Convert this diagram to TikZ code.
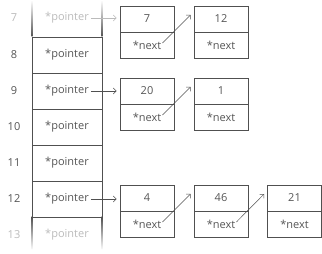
\documentclass[tikz,border=0pt]{standalone}
\usepackage{fontspec}
\setmainfont{Open Sans}
\usetikzlibrary{arrows.meta}
\definecolor{ink}{HTML}{505050}
\definecolor{txt}{HTML}{555555}
\definecolor{faint}{HTML}{BBBBBB}
\tikzset{
  x=1pt, y=-1pt,
  every node/.style={font=\fontsize{11}{13}\selectfont, text=txt, inner sep=0pt},
  cell/.style={draw=ink, line width=0.8pt, minimum width=70pt, minimum height=36pt},
  ghost/.style={minimum width=70pt, minimum height=36pt},
  half/.style={draw=ink, line width=0.8pt, minimum width=54pt, minimum height=26pt},
  ptr/.style={-{Straight Barb[length=3pt,width=6pt]}, draw=ink, line width=0.5pt},
}
\begin{document}
\begin{tikzpicture}
\useasboundingbox (0,0) rectangle (322,254);
% table column
\node[ghost] (c7) at (67,19) {};
\node[text=faint] (t7) at (67,18) {*pointer};
\foreach \r/\y in {8/55,9/91,10/127,11/163,12/199} {
  \node[cell] (c\r) at (67,\y) {};
  \node (t\r) at (67,\y) {*pointer};
}
\node[ghost] (c13) at (67,235) {};
\node[text=faint] (t13) at (67,235) {*pointer};
% faded side lines
\shade[top color=white, bottom color=ink] (31.6,0) rectangle (32.4,37);
\shade[top color=white, bottom color=ink] (101.6,0) rectangle (102.4,37);
\shade[top color=ink, bottom color=white] (31.6,217) rectangle (32.4,250);
\shade[top color=ink, bottom color=white] (101.6,217) rectangle (102.4,250);
% indices
\node[text=faint] (i7) at (14,18) {7};
\node (i8) at (14,55) {8};
\node (i9) at (14,91) {9};
\node (i10) at (14,127) {10};
\node (i11) at (14,163) {11};
\node (i12) at (14,199) {12};
\node[text=faint] (i13) at (14,235) {13};
% list nodes
\foreach \k/\x/\yv/\yn/\val in {1/147/19/45/7, 2/221/19/45/12, 3/147/91/117/20, 4/221/91/117/1, 5/147/198/224/4, 6/221/198/224/46, 7/294.5/198/224/21} {
  \node[half] (v\k) at (\x,\yv) {\val};
  \node[half] (n\k) at (\x,\yn) {};
  \node (x\k) at (\x,\yn) {*next};
}
% pointer arrows
\draw[ptr, draw=faint] ([xshift=2pt]t7.east) -- ([xshift=-3pt]v1.west |- t7.east);
\draw[ptr] ([xshift=2pt]t9.east) -- ([xshift=-3pt]v3.west |- t9.east);
\draw[ptr] ([xshift=2pt]t12.east) -- ([xshift=-3pt]v5.west |- t12.east);
% next arrows
\draw[ptr] ([shift={(1pt,2pt)}]x1.east) -- ([shift={(-3pt,4pt)}]v2.west);
\draw[ptr] ([shift={(1pt,2pt)}]x3.east) -- ([shift={(-3pt,4pt)}]v4.west);
\draw[ptr] ([shift={(1pt,2pt)}]x5.east) -- ([shift={(-3pt,4pt)}]v6.west);
\draw[ptr] ([shift={(1pt,2pt)}]x6.east) -- ([shift={(-3pt,4pt)}]v7.west);
\end{tikzpicture}
\end{document}
